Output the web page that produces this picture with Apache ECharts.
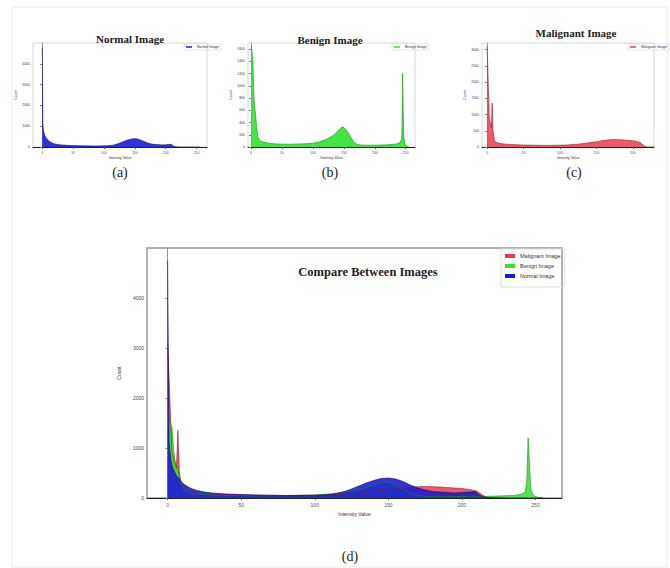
<!DOCTYPE html>
<html>
<head>
<meta charset="utf-8">
<title>Histograms</title>
<script src="https://cdn.jsdelivr.net/npm/echarts@6/dist/echarts.min.js"></script>
<style>
  html, body { margin: 0; padding: 0; background: #fff; }
  #main { width: 670px; height: 568px; }
</style>
</head>
<body>
<div id="main"></div>
<script>
// histogram values (intensity -> count)
var normalX = [0, 1, 2, 3, 4, 6, 8, 10, 13, 16, 20, 25, 30, 40, 50, 60, 70, 80, 90, 100, 105, 110, 115, 120, 125, 130, 135, 140, 145, 150, 155, 160, 165, 170, 175, 180, 185, 190, 195, 200, 205, 209, 213, 216, 220, 230, 255]
var normalY = [4750, 1100, 800, 650, 560, 450, 380, 300, 240, 190, 150, 120, 100, 80, 70, 60, 55, 50, 50, 55, 60, 70, 90, 130, 180, 240, 300, 350, 390, 400, 380, 330, 260, 200, 160, 130, 120, 110, 100, 110, 120, 130, 40, 15, 5, 0, 0]

var benignX = [0, 1, 2, 3, 4, 5, 7, 9, 11, 14, 17, 20, 30, 40, 60, 80, 100, 110, 120, 130, 135, 140, 145, 148, 152, 156, 160, 165, 170, 175, 180, 200, 220, 235, 240, 243, 244, 245, 246, 247, 249, 252, 255]
var benignY = [1650, 1600, 1500, 1400, 1000, 750, 550, 320, 160, 110, 90, 80, 60, 50, 45, 50, 60, 80, 120, 170, 210, 260, 310, 330, 300, 250, 180, 100, 50, 35, 30, 30, 35, 50, 70, 120, 300, 1200, 600, 150, 40, 10, 0]

var malignantX = [0, 1, 2, 3, 4, 5, 6, 7, 8, 9, 10, 12, 15, 20, 30, 50, 80, 100, 110, 120, 130, 140, 150, 155, 160, 165, 170, 175, 180, 185, 190, 195, 200, 205, 210, 213, 216, 220, 229]
var malignantY = [3100, 2400, 1600, 900, 800, 700, 600, 1350, 500, 350, 200, 150, 120, 100, 80, 60, 50, 55, 60, 80, 100, 130, 160, 180, 200, 215, 225, 230, 225, 220, 210, 200, 190, 170, 140, 80, 20, 0, 0]

var xTicks = [0, 50, 100, 150, 200, 250]
var xTicksMalignant = [0, 50, 100, 150, 200]

var names = ['Malignant Image', 'Benign Image', 'Normal Image']
var colors = { 'Malignant Image': '#ef3a4e', 'Benign Image': '#2fe22f', 'Normal Image': '#1c1cd8' }
var edges = { 'Malignant Image': '#9a1626', 'Benign Image': '#1b8c1b', 'Normal Image': '#0c0c60' }

function pairs(xs, ys) {
  return xs.map(function (x, i) { return [x, ys[i]] })
}

var serif = '"Liberation Serif", "DejaVu Serif", serif'

function xAxisFor(grid, min, max, ticks, big) {
  return {
    type: 'value', gridIndex: grid, min: min, max: max,
    name: 'Intensity Value', nameLocation: 'middle', nameGap: big ? 13 : 7,
    nameTextStyle: { fontSize: big ? 5 : 3.5, color: '#333' },
    splitLine: { show: false },
    axisLine: { onZero: false, lineStyle: { color: '#222', width: 1 } },
    axisTick: { customValues: ticks, length: 2, lineStyle: { color: '#555' } },
    axisLabel: { customValues: ticks, fontSize: big ? 5 : 3.5, color: '#555', margin: 4 }
  }
}

function yAxisFor(grid, max, interval, big) {
  return {
    type: 'value', gridIndex: grid, min: 0, max: max, interval: interval,
    name: 'Count', nameLocation: 'middle', nameGap: big ? 13 : 8,
    nameTextStyle: { fontSize: big ? 5 : 3.5, color: '#333' },
    splitLine: { show: false },
    axisLine: { show: true, lineStyle: { color: '#999' } },
    axisTick: { show: true, length: 2, lineStyle: { color: '#777' } },
    axisLabel: {
      fontSize: big ? 5 : 3.5, color: '#444', margin: 3, showMaxLabel: false,
      formatter: function (v) { return String(v) }
    }
  }
}

function areaSeries(name, xs, ys, idx, opacity) {
  return {
    name: name, type: 'line', xAxisIndex: idx, yAxisIndex: idx,
    data: pairs(xs, ys), symbol: 'none', clip: true,
    lineStyle: { color: edges[name], width: 0.6 },
    areaStyle: { color: colors[name], opacity: opacity },
    itemStyle: { color: colors[name] }
  }
}

function smallLegend(name, left, top) {
  return {
    data: [name], left: left, top: top, orient: 'vertical',
    icon: 'rect', itemWidth: 6, itemHeight: 1.5, itemGap: 2,
    padding: [1, 2], borderColor: '#ccc', borderWidth: 0.5,
    textStyle: { fontSize: 3.5, color: '#333' }, selectedMode: false
  }
}

var chartDom = document.getElementById('main')
var myChart = echarts.init(chartDom, null, { renderer: 'svg' })

var titleStyle = { fontFamily: serif, fontWeight: 'bold', fontSize: 11, color: '#222' }
var capStyle = { fontFamily: serif, fontWeight: 'normal', fontSize: 14, color: '#222' }

var option = {
  backgroundColor: '#fff',
  animation: false,
  title: [
    { text: 'Normal Image', left: 125, top: 28, textAlign: 'center', textStyle: titleStyle },
    { text: 'Benign Image', left: 325, top: 29, textAlign: 'center', textStyle: titleStyle },
    { text: 'Malignant Image', left: 571, top: 22, textAlign: 'center', textStyle: titleStyle },
    { text: 'Compare Between Images', left: 363, top: 260, textAlign: 'center', textStyle: { fontFamily: serif, fontWeight: 'bold', fontSize: 12.5, color: '#222' } },
    { text: '(a)', left: 115, top: 160, textAlign: 'center', textStyle: capStyle },
    { text: '(b)', left: 325, top: 160, textAlign: 'center', textStyle: capStyle },
    { text: '(c)', left: 569, top: 160, textAlign: 'center', textStyle: capStyle },
    { text: '(d)', left: 345, top: 544, textAlign: 'center', textStyle: capStyle }
  ],
  legend: [
    smallLegend('Normal Image', 184, 44),
    smallLegend('Benign Image', 392, 44),
    smallLegend('Malignant Image', 628, 44),
    {
      data: names, left: 501, top: 249, orient: 'vertical',
      icon: 'rect', itemWidth: 10, itemHeight: 4, itemGap: 4,
      padding: [4, 4, 8, 4], borderColor: '#ddd', borderWidth: 1,
      textStyle: { fontSize: 5.5, color: '#333' }, selectedMode: false
    }
  ],
  grid: [
    { left: 33, top: 43, width: 174, height: 104, show: true, borderColor: '#d8d8d8', borderWidth: 1 },
    { left: 248, top: 43, width: 167, height: 104, show: true, borderColor: '#d8d8d8', borderWidth: 1 },
    { left: 482, top: 43, width: 172, height: 104, show: true, borderColor: '#d8d8d8', borderWidth: 1 },
    { left: 147, top: 248, width: 415, height: 250, show: true, borderColor: '#999', borderWidth: 1.5 }
  ],
  xAxis: [
    xAxisFor(0, -15, 267, xTicks, false),
    xAxisFor(1, -5, 265, xTicks, false),
    xAxisFor(2, -7, 229, xTicksMalignant, false),
    xAxisFor(3, -14, 268, xTicks, true)
  ],
  yAxis: [
    yAxisFor(0, 5000, 1000, false),
    yAxisFor(1, 1700, 200, false),
    yAxisFor(2, 3200, 500, false),
    yAxisFor(3, 5000, 1000, true)
  ],
  series: [
    areaSeries('Normal Image', normalX, normalY, 0, 0.9),
    areaSeries('Benign Image', benignX, benignY, 1, 0.9),
    areaSeries('Malignant Image', malignantX, malignantY, 2, 0.85),
    // compare chart: red under green under blue
    areaSeries('Malignant Image', malignantX, malignantY, 3, 0.85),
    areaSeries('Benign Image', benignX, benignY, 3, 0.85),
    areaSeries('Normal Image', normalX, normalY, 3, 0.9)
  ],
  graphic: [
    // faint frame round the whole figure
    { type: 'rect', shape: { x: 12, y: 7, width: 655, height: 560 }, style: { fill: 'none', stroke: '#ececec', lineWidth: 1 }, silent: true }
  ]
}

option && myChart.setOption(option)
</script>
</body>
</html>
